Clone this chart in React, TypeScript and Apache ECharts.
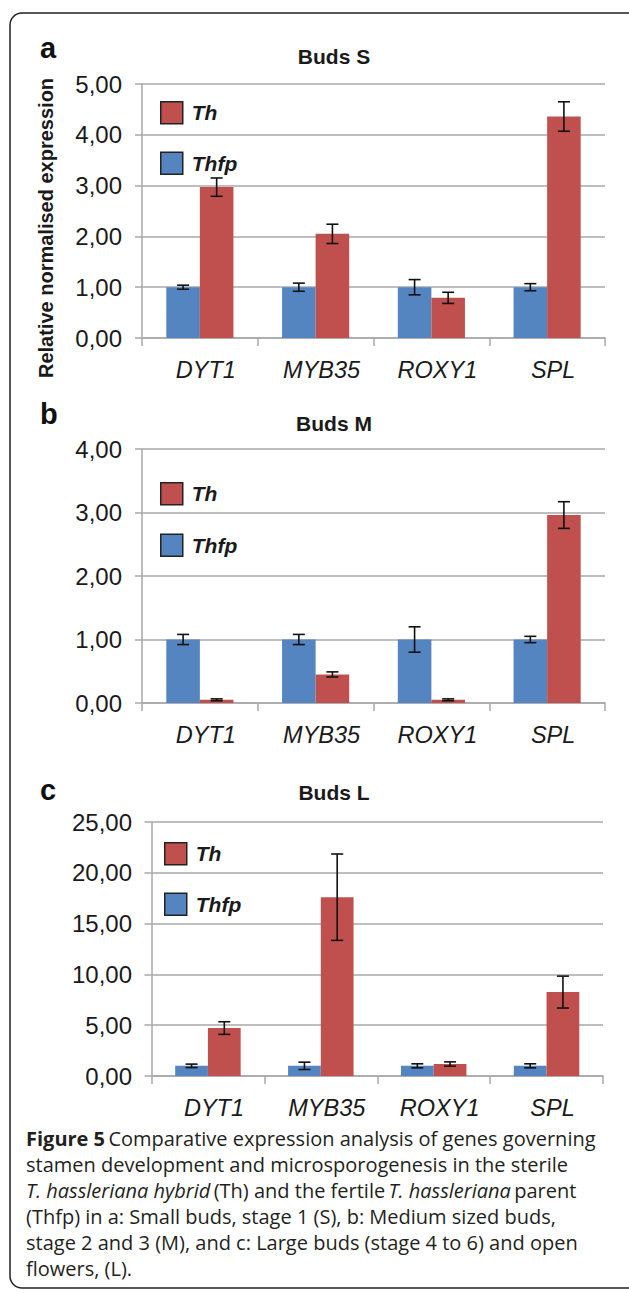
import React, { useEffect, useRef } from "react";
import * as echarts from "echarts";

const categories = ["DYT1", "MYB35", "ROXY1", "SPL"];

// Panel a: Buds S
const thfpS = [1.0, 1.0, 1.0, 1.0];
const thfpSErr = [0.04, 0.08, 0.15, 0.07];
const thS = [2.97, 2.05, 0.79, 4.36];
const thSErr = [0.18, 0.19, 0.11, 0.29];
const yTicksS = ["0,00", "1,00", "2,00", "3,00", "4,00", "5,00"];

// Panel b: Buds M
const thfpM = [1.0, 1.0, 1.0, 1.0];
const thfpMErr = [0.08, 0.08, 0.2, 0.05];
const thM = [0.05, 0.45, 0.05, 2.96];
const thMErr = [0.015, 0.04, 0.015, 0.21];
const yTicksM = ["0,00", "1,00", "2,00", "3,00", "4,00"];

// Panel c: Buds L
const thfpL = [1.0, 1.0, 1.0, 1.0];
const thfpLErr = [0.17, 0.36, 0.2, 0.2];
const thL = [4.72, 17.6, 1.18, 8.26];
const thLErr = [0.62, 4.25, 0.21, 1.57];
const yTicksL = ["0,00", "5,00", "10,00", "15,00", "20,00", "25,00"];

const captionLines = [
  "{b|Figure 5} {n|Comparative expression analysis of genes governing}",
  "{n|stamen development and microsporogenesis in the sterile}",
  "{i|T. hassleriana hybrid} {n|(Th) and the fertile} {i|T. hassleriana} {n|parent}",
  "{n|(Thfp) in a: Small buds, stage 1 (S), b: Medium sized buds,}",
  "{n|stage 2 and 3 (M), and c: Large buds (stage 4 to 6) and open}",
  "{n|flowers, (L).}",
];

const FONT = '"Liberation Sans", Arial, sans-serif';
const CAP_FONT = '"Open Sans", "Noto Sans", sans-serif';
const BLUE = "#5585c0";
const RED = "#c0504d";
const GRID = "#a8a8a8";
const TEXT = "#1a1a1a";
const GROUP = 0.58;

const panels = [
  {
    title: "Buds S", letter: "a", max: 5, interval: 1, ticks: yTicksS,
    thfp: thfpS, thfpErr: thfpSErr, th: thS, thErr: thSErr,
    grid: { left: 142, right: 24, top: 84, height: 254 },
    titleY: 56, letterY: 48, legend: { left: 155, top: 96, gap: 27 }, yMargin: 20,
  },
  {
    title: "Buds M", letter: "b", max: 4, interval: 1, ticks: yTicksM,
    thfp: thfpM, thfpErr: thfpMErr, th: thM, thErr: thMErr,
    grid: { left: 142, right: 24, top: 449, height: 254 },
    titleY: 423, letterY: 414, legend: { left: 155, top: 477, gap: 28 }, yMargin: 20,
  },
  {
    title: "Buds L", letter: "c", max: 25, interval: 5, ticks: yTicksL,
    thfp: thfpL, thfpErr: thfpLErr, th: thL, thErr: thLErr,
    grid: { left: 151.5, right: 26, top: 822, height: 254 },
    titleY: 792, letterY: 790, legend: { left: 159, top: 837, gap: 27 }, yMargin: 19.5,
  },
];

function errData(vals: number[], errs: number[], side: number) {
  return vals.map((v, i) => [i, v - errs[i], v + errs[i], side]);
}

function renderErr(params: any, api: any) {
  const cat = api.value(0);
  const lo = api.value(1);
  const hi = api.value(2);
  const side = api.value(3);
  const band = api.size([1, 0])[0];
  const off = (side * band * GROUP) / 4;
  const pHi = api.coord([cat, hi]);
  const pLo = api.coord([cat, lo]);
  const x = pHi[0] + off;
  const cap = 6;
  const style = { stroke: "#111", lineWidth: 1.6 };
  return {
    type: "group",
    children: [
      { type: "line", shape: { x1: x, y1: pHi[1], x2: x, y2: pLo[1] }, style },
      { type: "line", shape: { x1: x - cap, y1: pHi[1], x2: x + cap, y2: pHi[1] }, style },
      { type: "line", shape: { x1: x - cap, y1: pLo[1], x2: x + cap, y2: pLo[1] }, style },
    ],
  };
}

export default function App() {
  const ref = useRef<HTMLDivElement>(null);

  useEffect(() => {
    if (!ref.current) return;
    const chart = echarts.init(ref.current, undefined, { renderer: "svg" });

    const grids: any[] = [];
    const xAxes: any[] = [];
    const yAxes: any[] = [];
    const series: any[] = [];
    const legends: any[] = [];
    const graphics: any[] = [];

    panels.forEach((p, k) => {
      grids.push({ ...p.grid, containLabel: false });
      xAxes.push({
        type: "category",
        gridIndex: k,
        data: categories,
        axisLine: { show: true, lineStyle: { color: GRID, width: 1.5 } },
        axisTick: { show: true, length: 8, lineStyle: { color: GRID, width: 1.5 } },
        axisLabel: {
          margin: 22,
          fontFamily: FONT,
          fontSize: 23.5,
          lineHeight: 20,
          fontStyle: "italic",
          color: TEXT,
          padding: [0, 0, 0, 12],
        },
      });
      const ticks = p.ticks;
      yAxes.push({
        type: "value",
        gridIndex: k,
        min: 0,
        max: p.max,
        interval: p.interval,
        axisLine: { show: true, lineStyle: { color: GRID, width: 1.5 } },
        axisTick: { show: true, length: 7, lineStyle: { color: GRID, width: 1.5 } },
        splitLine: { show: true, lineStyle: { color: GRID, width: 1.5 } },
        axisLabel: {
          margin: p.yMargin,
          fontFamily: FONT,
          fontSize: 24,
          color: TEXT,
          formatter: (v: number, idx: number) => ticks[idx] ?? "",
        },
      });
      series.push({
        name: "Thfp",
        type: "bar",
        xAxisIndex: k,
        yAxisIndex: k,
        data: p.thfp,
        barGap: "0%",
        barCategoryGap: "42%",
        itemStyle: { color: BLUE },
      });
      series.push({
        name: "Th",
        type: "bar",
        xAxisIndex: k,
        yAxisIndex: k,
        data: p.th,
        barGap: "0%",
        barCategoryGap: "42%",
        itemStyle: { color: RED },
      });
      series.push({
        type: "custom",
        xAxisIndex: k,
        yAxisIndex: k,
        z: 5,
        renderItem: renderErr,
        encode: { x: 0, y: [1, 2] },
        data: [...errData(p.thfp, p.thfpErr, -1), ...errData(p.th, p.thErr, 1)],
      });
      legends.push({
        orient: "vertical",
        left: p.legend.left,
        top: p.legend.top,
        itemWidth: 22,
        itemHeight: 22,
        itemGap: p.legend.gap,
        icon: "rect",
        selectedMode: false,
        data: ["Th", "Thfp"],
        itemStyle: { borderColor: "#222", borderWidth: 1.5 },
        textStyle: {
          fontFamily: FONT,
          fontSize: 21,
          fontWeight: "bold",
          fontStyle: "italic",
          color: TEXT,
          padding: [0, 0, 0, 4],
        },
      });
      graphics.push({
        type: "text",
        x: 334,
        y: p.titleY,
        style: {
          text: p.title,
          font: `bold 21px ${FONT}`,
          fill: TEXT,
          align: "center",
          verticalAlign: "middle",
        },
      });
      graphics.push({
        type: "text",
        x: 40,
        y: p.letterY,
        style: {
          text: p.letter,
          font: `bold 29px ${FONT}`,
          fill: "#111",
          align: "left",
          verticalAlign: "middle",
        },
      });
    });

    graphics.push({
      type: "text",
      x: 45.5,
      y: 228,
      rotation: Math.PI / 2,
      style: {
        text: "Relative normalised expression",
        font: `bold 20px ${FONT}`,
        fill: TEXT,
        align: "center",
        verticalAlign: "middle",
      },
    });

    graphics.push({
      type: "rect",
      shape: { x: 10, y: 13, width: 632, height: 1275, r: 12 },
      style: { fill: "none", stroke: "#222", lineWidth: 1.5 },
      z: -1,
    });

    const capY = [1138, 1164, 1190, 1216, 1242, 1268];
    captionLines.forEach((line, i) => {
      graphics.push({
        type: "text",
        x: 26,
        y: capY[i],
        style: {
          text: line,
          fill: "#231f20",
          align: "left",
          verticalAlign: "middle",
          rich: {
            b: { fontFamily: CAP_FONT, fontSize: 20, lineHeight: 20, fontWeight: "bold", fill: "#231f20" },
            n: { fontFamily: CAP_FONT, fontSize: 20, lineHeight: 20, fill: "#231f20" },
            i: { fontFamily: CAP_FONT, fontSize: 20, lineHeight: 20, fontStyle: "italic", fill: "#231f20" },
          },
        },
      });
    });

    chart.setOption({
      animation: false,
      backgroundColor: "#ffffff",
      grid: grids,
      xAxis: xAxes,
      yAxis: yAxes,
      series,
      legend: legends,
      graphic: graphics,
    });

    return () => chart.dispose();
  }, []);

  return (
    <div
      ref={ref}
      style={{ position: "absolute", left: 0, top: 0, width: 629, height: 1293 }}
    />
  );
}
